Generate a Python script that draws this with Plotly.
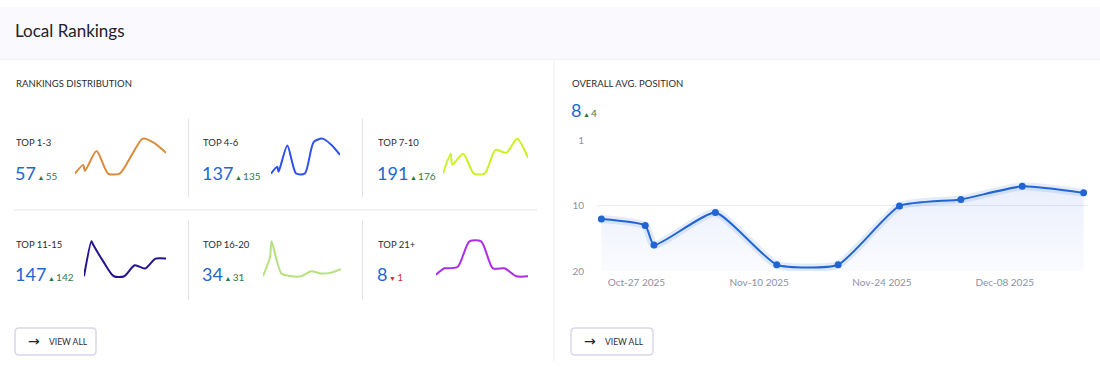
import plotly.graph_objects as go

W, H = 1100, 367

# ---------------- data ----------------
dates = ["2025-10-23", "2025-10-28", "2025-10-29", "2025-11-05", "2025-11-12",
         "2025-11-19", "2025-11-26", "2025-12-03", "2025-12-10", "2025-12-17"]
avg_position = [12, 13, 16, 11, 19, 19, 10, 9, 7, 8]

top_1_3 = [2, 25, 9, 62, 2, 2, 49, 95, 83, 57]
top_4_6 = [2, 51, 14, 206, 2, 2, 230, 255, 211, 137]
top_7_10 = [15, 237, 115, 237, 15, 15, 283, 249, 409, 191]
top_11_15 = [5, 286, 262, 123, 5, 5, 93, 67, 147, 147]
top_16_20 = [3, 89, 158, 15, 3, 3, 25, 15, 19, 34]
top_21_plus = [9, 13, 13, 14, 30, 30, 13, 13, 8, 8]

bucket_labels = ["TOP 1-3", "TOP 4-6", "TOP 7-10", "TOP 11-15", "TOP 16-20", "TOP 21+"]
bucket_totals = [57, 137, 191, 147, 34, 8]
bucket_changes = [55, 135, 176, 142, 31, -1]
bucket_series = [top_1_3, top_4_6, top_7_10, top_11_15, top_16_20, top_21_plus]

overall_avg = 8
overall_change = 4

x_tick_vals = ["2025-10-27", "2025-11-10", "2025-11-24", "2025-12-08"]
x_tick_text = ["Oct-27 2025", "Nov-10 2025", "Nov-24 2025", "Dec-08 2025"]
y_tick_vals = [0, 10, 20]
y_tick_text = ["1", "10", "20"]

# ---------------- styles ----------------
spark_colors = ["#d98b3b", "#2d4ff0", "#c9f21e", "#24138f", "#b6e27d", "#aa2fe6"]
BLUE = "#1f65d3"
GREEN = "#2c7a4b"
GREEN_TRI = "#1d7a3a"
RED = "#d32f2f"
TXT = "#2b2b33"
GRID = "#eaecf2"
TICK = "#8b91a3"
FONT = "Lato"

# vertical placement: the photographed page shows the figure in rows 6..361,
# so vertical positions are laid out to land on the reference rows.
TOP_OFF, VIS_H = 6.0, 355.0


def px(x):
    return x / W


def py(y):
    v = 1 - (y - TOP_OFF) / VIS_H
    return min(1.0, max(0.0, v))


fig = go.Figure()

spark_boxes = [(75, 166, 138, 173), (271, 340, 138, 173), (443, 528, 138, 173),
               (84, 166, 241, 276), (263, 341, 241, 276), (436, 528, 241, 276)]
text_pos = [(14, 142, 172), (201, 142, 172), (376, 142, 172),
            (14, 244, 274), (201, 244, 274), (376, 244, 274)]

annotations = []
layout_axes = {}
PAD = 4
for i, (vals, col, box) in enumerate(zip(bucket_series, spark_colors, spark_boxes)):
    n = i + 2
    x0, x1, y0, y1 = box
    vmin, vmax = min(vals), max(vals)
    per_px = (vmax - vmin) / (y1 - y0)
    fig.add_trace(go.Scatter(
        x=dates, y=vals, mode="lines",
        line=dict(color=col, width=2, shape="spline", smoothing=0.7),
        xaxis=f"x{n}", yaxis=f"y{n}", hoverinfo="skip", showlegend=False))
    layout_axes[f"xaxis{n}"] = dict(domain=[px(x0), px(x1)], visible=False,
                                    range=[dates[0], dates[-1]], fixedrange=True)
    layout_axes[f"yaxis{n}"] = dict(domain=[py(y1 + PAD), py(y0 - PAD)], visible=False,
                                    range=[vmin - PAD * per_px, vmax + PAD * per_px],
                                    fixedrange=True)
    tx, ty_label, ty_num = text_pos[i]
    annotations.append(dict(x=px(tx), y=py(ty_label), text=bucket_labels[i],
                            font=dict(family=FONT, size=9.5, color=TXT)))
    ch = bucket_changes[i]
    if ch >= 0:
        tri = f"<span style='font-size:7px;color:{GREEN_TRI}'>▲</span>"
        chtxt = f"<span style='font-size:10px;color:{GREEN}'>{ch}</span>"
    else:
        tri = f"<span style='font-size:7px;color:{RED}'>▼</span>"
        chtxt = f"<span style='font-size:10px;color:{RED}'>{abs(ch)}</span>"
    annotations.append(dict(x=px(tx - 1), y=py(ty_num),
                            text=f"<span style='font-size:18px;color:{BLUE}'>{bucket_totals[i]}</span>"
                                 f"<span style='font-size:6px'> </span>{tri}<span style='font-size:5px'> </span>{chtxt}",
                            font=dict(family=FONT, size=18, color=BLUE)))

# ---------------- main chart ----------------
baseline = [max(y_tick_vals)] * len(dates)
fig.add_trace(go.Scatter(x=dates, y=baseline, mode="lines", line=dict(width=0, color="rgba(0,0,0,0)"),
                         hoverinfo="skip", showlegend=False))
fig.add_trace(go.Scatter(
    x=dates, y=avg_position, mode="lines", fill="tonexty",
    fillgradient=dict(type="vertical",
                      colorscale=[[0, "rgba(70,110,230,0.02)"], [1, "rgba(70,110,230,0.11)"]],
                      start=max(y_tick_vals), stop=min(avg_position)),
    line=dict(color="rgba(31,101,211,0.12)", width=8, shape="spline", smoothing=0.5),
    hoverinfo="skip", showlegend=False))
fig.add_trace(go.Scatter(
    x=dates, y=avg_position, mode="lines+markers",
    line=dict(color=BLUE, width=2, shape="spline", smoothing=0.5),
    marker=dict(size=7, color=BLUE), cliponaxis=False,
    showlegend=False))

plot_x0, plot_x1, plot_y0, plot_y1 = 597, 1088, 140, 271

layout_axes["xaxis"] = dict(domain=[px(plot_x0), px(plot_x1)],
                            range=["2025-10-22 12:00", "2025-12-17 12:00"],
                            tickvals=x_tick_vals, ticktext=x_tick_text,
                            showgrid=False, zeroline=False, showline=False, ticks="",
                            ticklabelstandoff=4,
                            tickfont=dict(family=FONT, size=10, color=TICK), fixedrange=True)
layout_axes["yaxis"] = dict(domain=[py(plot_y1), py(plot_y0)],
                            range=[max(y_tick_vals), min(y_tick_vals)],
                            tickvals=y_tick_vals, ticktext=y_tick_text,
                            showgrid=True, gridcolor=GRID, gridwidth=1, zeroline=False,
                            showline=False, ticks="", ticklabelstandoff=12,
                            tickfont=dict(family=FONT, size=10, color=TICK), fixedrange=True)

# ---------------- static text ----------------
annotations += [
    dict(x=px(13), y=py(30), text="Local Rankings",
         font=dict(family=FONT, size=17, color="#222228")),
    dict(x=px(14), y=py(83), text="RANKINGS DISTRIBUTION",
         font=dict(family=FONT, size=9.5, color=TXT)),
    dict(x=px(570), y=py(83), text="OVERALL AVG. POSITION",
         font=dict(family=FONT, size=9.5, color=TXT)),
    dict(x=px(569), y=py(109),
         text=f"<span style='font-size:18px;color:{BLUE}'>{overall_avg}</span>"
              f"<span style='font-size:6px'> </span><span style='font-size:7px;color:{GREEN_TRI}'>▲</span>"
              f"<span style='font-size:4px'> </span><span style='font-size:10px;color:{GREEN}'>{overall_change}</span>",
         font=dict(family=FONT, size=18, color=BLUE)),
]
for bx in (15, 571):
    annotations.append(dict(x=px(bx + 11), y=py(341), text="→",
                            font=dict(family="DejaVu Sans", size=14, color="#222")))
    annotations.append(dict(x=px(bx + 32), y=py(341.5), text="VIEW ALL",
                            font=dict(family=FONT, size=8.5, color=TXT)))
for a in annotations:
    a.setdefault("xref", "paper")
    a.setdefault("yref", "paper")
    a.setdefault("xanchor", "left")
    a.setdefault("yanchor", "middle")
    a.setdefault("showarrow", False)


# ---------------- shapes ----------------
def rrect(x0, y0, x1, y1, r):
    X0, X1 = px(x0), px(x1)
    Y0, Y1 = py(y0), py(y1)
    rx, ry = r / W, r / VIS_H
    return (f"M {X0+rx},{Y0} L {X1-rx},{Y0} Q {X1},{Y0} {X1},{Y0-ry} "
            f"L {X1},{Y1+ry} Q {X1},{Y1} {X1-rx},{Y1} L {X0+rx},{Y1} "
            f"Q {X0},{Y1} {X0},{Y1+ry} L {X0},{Y0-ry} Q {X0},{Y0} {X0+rx},{Y0} Z")


shapes = [
    dict(type="rect", xref="paper", yref="paper", x0=0, x1=1, y0=py(58), y1=1,
         fillcolor="#faf9fe", line=dict(width=0), layer="below"),
    dict(type="line", xref="paper", yref="paper", x0=0, x1=1, y0=py(58.5), y1=py(58.5),
         line=dict(color="#efedf6", width=1)),
    dict(type="line", xref="paper", yref="paper", x0=px(554), x1=px(554), y0=py(59), y1=0,
         line=dict(color="#eeeef5", width=1)),
    dict(type="line", xref="paper", yref="paper", x0=px(14), x1=px(537), y0=py(209.5), y1=py(209.5),
         line=dict(color="#e3e3ec", width=1)),
]
for vx in (188.5, 362.5):
    for (ya, yb) in ((118, 197), (220, 300)):
        shapes.append(dict(type="line", xref="paper", yref="paper", x0=px(vx), x1=px(vx),
                           y0=py(ya), y1=py(yb), line=dict(color="#e3e3ec", width=1)))
for (bx0, bx1) in ((15, 96), (571, 653)):
    shapes.append(dict(type="path", xref="paper", yref="paper", path=rrect(bx0, 328, bx1, 355, 4),
                       line=dict(color="#d9d6ec", width=1.5), fillcolor="white"))

fig.update_layout(
    width=W, height=H, margin=dict(l=0, r=0, t=0, b=0),
    paper_bgcolor="white", plot_bgcolor="rgba(0,0,0,0)",
    showlegend=False, annotations=annotations, shapes=shapes,
    **layout_axes)

POST = ("document.documentElement.style.margin='0';document.documentElement.style.padding='0';"
        "document.documentElement.style.overflow='hidden';"
        "document.body.style.margin='0';document.body.style.padding='0';document.body.style.overflow='hidden';"
        "var gd=document.querySelector('.plotly-graph-div');"
        "if(gd){gd.style.position='fixed';gd.style.top='0px';gd.style.left='0px';}")

fig.write_html("out.html", config={"displayModeBar": False},
               post_script=POST)
